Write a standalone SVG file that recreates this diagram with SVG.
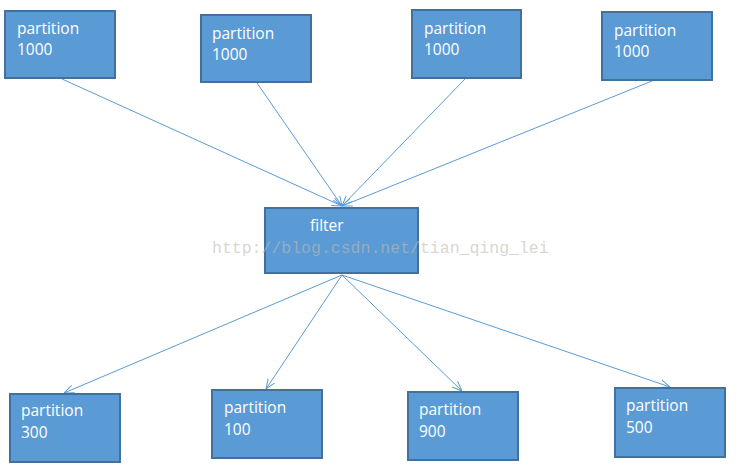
<svg xmlns="http://www.w3.org/2000/svg" width="743" height="473" viewBox="0 0 743 473">
<defs>
<style>
.box{fill:#5B9BD5;stroke:#41719C;stroke-width:2}
.t{font-family:"Open Sans","Liberation Sans",Arial,sans-serif;font-size:15.5px;fill:#fff}
.c{stroke:#5B9BD5;stroke-width:1;fill:none;marker-end:url(#ah)}
.wm{font-family:"Liberation Mono","DejaVu Sans Mono",monospace;font-size:16.5px;fill:#bdbab4;fill-opacity:0.6}
</style>
<marker id="ah" viewBox="0 0 10 10" refX="10" refY="5" markerWidth="10" markerHeight="10" markerUnits="userSpaceOnUse" orient="auto">
<path d="M0,1 L10,5 L0,9" fill="none" stroke="#5B9BD5" stroke-width="1"/>
</marker>
</defs>
<rect width="743" height="473" fill="#fff"/>
<g id="connectors">
<line class="c" x1="62" y1="79" x2="342" y2="206"/>
<line class="c" x1="257" y1="83" x2="342" y2="206"/>
<line class="c" x1="465" y1="79" x2="342" y2="206"/>
<line class="c" x1="652" y1="81" x2="342" y2="206"/>
<line class="c" x1="342" y1="275" x2="64" y2="393"/>
<line class="c" x1="342" y1="275" x2="266" y2="389"/>
<line class="c" x1="342" y1="275" x2="462" y2="391"/>
<line class="c" x1="342" y1="275" x2="670" y2="387"/>
</g>
<g id="top1"><rect class="box" x="5" y="11" width="110" height="67"/><text class="t" x="17" y="34">partition</text><text class="t" x="17" y="55">1000</text></g>
<g id="top2"><rect class="box" x="201" y="15" width="110" height="67"/><text class="t" x="212" y="39">partition</text><text class="t" x="212" y="60">1000</text></g>
<g id="top3"><rect class="box" x="412" y="10" width="109" height="68"/><text class="t" x="424" y="34">partition</text><text class="t" x="424" y="55">1000</text></g>
<g id="top4"><rect class="box" x="602" y="12" width="110" height="68"/><text class="t" x="614" y="36">partition</text><text class="t" x="614" y="57">1000</text></g>
<g id="filter"><rect class="box" x="265" y="208" width="153" height="65"/><text class="t" x="310" y="231">filter</text></g>
<g id="bot1"><rect class="box" x="10" y="394" width="110" height="68"/><text class="t" x="21" y="416">partition</text><text class="t" x="21" y="438">300</text></g>
<g id="bot2"><rect class="box" x="212" y="390" width="110" height="68"/><text class="t" x="224" y="413">partition</text><text class="t" x="224" y="435">100</text></g>
<g id="bot3"><rect class="box" x="408" y="392" width="110" height="68"/><text class="t" x="419" y="415">partition</text><text class="t" x="419" y="437">900</text></g>
<g id="bot4"><rect class="box" x="615" y="388" width="110" height="69"/><text class="t" x="626" y="411">partition</text><text class="t" x="626" y="433">500</text></g>
<text class="wm" x="212" y="253">http://blog.csdn.net/tian_qing_lei</text>
</svg>
